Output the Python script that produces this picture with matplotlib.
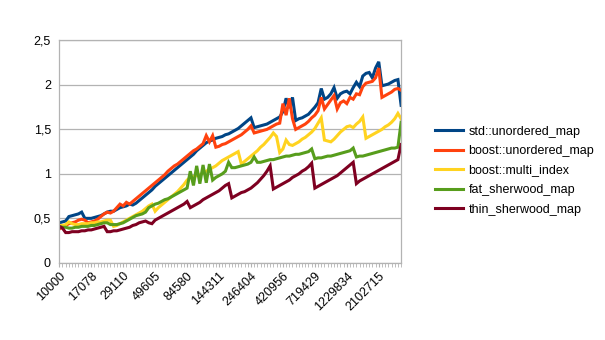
import numpy as np
import matplotlib.pyplot as plt
from matplotlib.ticker import FixedLocator

# x categories: 108 sizes, only every 10th is labelled
n_points = 108
tick_labels = ['10000', '17078', '29110', '49605', '84580', '144311',
               '246404', '420956', '719429', '1229834', '2102715']

std_unordered = [
    0.45, 0.46, 0.47, 0.52, 0.53, 0.54, 0.55, 0.57, 0.50, 0.50,
    0.50, 0.51, 0.52, 0.53, 0.55, 0.57, 0.58, 0.58, 0.60, 0.62,
    0.63, 0.64, 0.66, 0.65, 0.67, 0.70, 0.73, 0.76, 0.79, 0.82,
    0.86, 0.89, 0.92, 0.95, 0.98, 1.01, 1.04, 1.07, 1.10, 1.13,
    1.16, 1.19, 1.22, 1.26, 1.29, 1.32, 1.35, 1.37, 1.38, 1.40,
    1.41, 1.42, 1.44, 1.45, 1.47, 1.49, 1.51, 1.54, 1.57, 1.60,
    1.63, 1.52, 1.53, 1.54, 1.55, 1.56, 1.58, 1.60, 1.62, 1.64,
    1.70, 1.85, 1.74, 1.86, 1.60, 1.62, 1.63, 1.65, 1.67, 1.71,
    1.75, 1.80, 1.96, 1.84, 1.86, 1.90, 1.97, 1.85, 1.90, 1.92,
    1.93, 1.90, 1.97, 2.03, 1.98, 2.10, 2.13, 2.14, 2.08, 2.19,
    2.26, 1.99, 2.00, 2.01, 2.03, 2.05, 2.06, 1.77]

boost_unordered = [
    0.38, 0.40, 0.42, 0.44, 0.45, 0.46, 0.48, 0.49, 0.48, 0.45,
    0.46, 0.47, 0.49, 0.52, 0.55, 0.57, 0.56, 0.58, 0.62, 0.66,
    0.64, 0.68, 0.66, 0.69, 0.72, 0.75, 0.78, 0.81, 0.84, 0.87,
    0.90, 0.93, 0.96, 0.99, 1.03, 1.06, 1.09, 1.11, 1.14, 1.17,
    1.20, 1.23, 1.26, 1.28, 1.31, 1.34, 1.43, 1.36, 1.43, 1.30,
    1.31, 1.33, 1.34, 1.36, 1.38, 1.40, 1.42, 1.44, 1.47, 1.50,
    1.54, 1.46, 1.47, 1.48, 1.49, 1.50, 1.52, 1.54, 1.56, 1.57,
    1.79, 1.66, 1.85, 1.62, 1.50, 1.52, 1.54, 1.56, 1.59, 1.63,
    1.66, 1.71, 1.86, 1.73, 1.78, 1.83, 1.88, 1.73, 1.80, 1.82,
    1.79, 1.86, 1.84, 1.90, 1.89, 1.98, 2.02, 2.03, 2.04, 2.08,
    2.19, 1.86, 1.88, 1.90, 1.92, 1.95, 1.96, 1.94]

multi_index = [
    0.42, 0.42, 0.43, 0.46, 0.44, 0.43, 0.43, 0.44, 0.44, 0.44,
    0.45, 0.45, 0.46, 0.46, 0.47, 0.48, 0.48, 0.41, 0.42, 0.44,
    0.46, 0.48, 0.50, 0.52, 0.54, 0.56, 0.58, 0.61, 0.64, 0.66,
    0.58, 0.62, 0.65, 0.68, 0.71, 0.74, 0.77, 0.80, 0.84, 0.88,
    0.93, 0.96, 0.97, 0.98, 0.99, 1.01, 1.03, 1.05, 1.07, 1.09,
    1.12, 1.15, 1.17, 1.19, 1.21, 1.23, 1.25, 1.11, 1.14, 1.17,
    1.20, 1.23, 1.26, 1.30, 1.33, 1.37, 1.41, 1.46, 1.42, 1.24,
    1.28, 1.38, 1.33, 1.32, 1.34, 1.36, 1.39, 1.41, 1.44, 1.47,
    1.51, 1.57, 1.63, 1.38, 1.37, 1.36, 1.39, 1.43, 1.47, 1.50,
    1.53, 1.54, 1.52, 1.56, 1.59, 1.64, 1.40, 1.42, 1.44, 1.46,
    1.48, 1.50, 1.53, 1.55, 1.58, 1.62, 1.68, 1.62]

fat_sherwood = [
    0.41, 0.40, 0.40, 0.39, 0.39, 0.40, 0.40, 0.41, 0.41, 0.41,
    0.42, 0.42, 0.43, 0.44, 0.45, 0.45, 0.43, 0.43, 0.43, 0.44,
    0.45, 0.47, 0.49, 0.51, 0.53, 0.54, 0.55, 0.57, 0.62, 0.64,
    0.66, 0.67, 0.69, 0.71, 0.72, 0.74, 0.76, 0.78, 0.80, 0.82,
    0.84, 1.03, 0.87, 1.09, 0.89, 1.10, 0.90, 1.11, 0.93, 0.96,
    0.98, 1.00, 1.03, 1.13, 1.07, 1.07, 1.08, 1.09, 1.10, 1.11,
    1.13, 1.19, 1.13, 1.13, 1.14, 1.15, 1.16, 1.16, 1.17, 1.18,
    1.19, 1.20, 1.20, 1.21, 1.22, 1.22, 1.23, 1.24, 1.25, 1.28,
    1.17, 1.18, 1.18, 1.19, 1.20, 1.20, 1.21, 1.22, 1.23, 1.24,
    1.25, 1.26, 1.29, 1.19, 1.20, 1.20, 1.21, 1.22, 1.23, 1.24,
    1.25, 1.26, 1.27, 1.28, 1.29, 1.29, 1.30, 1.58]

thin_sherwood = [
    0.41, 0.39, 0.34, 0.34, 0.35, 0.35, 0.35, 0.36, 0.36, 0.37,
    0.37, 0.38, 0.39, 0.40, 0.41, 0.35, 0.35, 0.36, 0.36, 0.37,
    0.38, 0.39, 0.40, 0.42, 0.43, 0.45, 0.46, 0.47, 0.45, 0.44,
    0.48, 0.50, 0.52, 0.54, 0.56, 0.58, 0.60, 0.62, 0.64, 0.66,
    0.69, 0.62, 0.64, 0.66, 0.68, 0.71, 0.73, 0.75, 0.77, 0.79,
    0.81, 0.84, 0.87, 0.89, 0.73, 0.75, 0.77, 0.79, 0.80, 0.82,
    0.84, 0.87, 0.90, 0.94, 0.98, 1.03, 1.09, 0.83, 0.85, 0.87,
    0.89, 0.91, 0.93, 0.96, 0.98, 1.00, 1.03, 1.05, 1.08, 1.12,
    0.84, 0.86, 0.88, 0.90, 0.92, 0.94, 0.96, 0.98, 1.01, 1.04,
    1.07, 1.10, 1.13, 0.89, 0.92, 0.94, 0.96, 0.98, 1.00, 1.02,
    1.04, 1.06, 1.08, 1.10, 1.12, 1.14, 1.16, 1.33]

series = [
    ('std::unordered_map', std_unordered, '#004586'),
    ('boost::unordered_map', boost_unordered, '#ff420e'),
    ('boost::multi_index', multi_index, '#ffd320'),
    ('fat_sherwood_map', fat_sherwood, '#579d1c'),
    ('thin_sherwood_map', thin_sherwood, '#7e0021'),
]

plt.rcParams['font.family'] = ['Liberation Sans', 'DejaVu Sans']
fig = plt.figure(figsize=(6.05, 3.4), dpi=100)
ax = fig.add_axes([0.098, 0.227, 0.565, 0.654])

x = np.arange(n_points)
for name, vals, col in series:
    ax.plot(x, vals, color=col, lw=2.2, label=name, solid_joinstyle='miter')

ax.set_xlim(0, n_points - 1)
ax.set_ylim(0, 2.5)
ax.set_yticks([0, 0.5, 1, 1.5, 2, 2.5])
ax.set_yticklabels(['0', '0,5', '1', '1,5', '2', '2,5'])
ax.grid(axis='y', color='#b3b3b3', lw=0.9)
ax.set_axisbelow(True)

ax.xaxis.set_major_locator(FixedLocator(np.arange(0, 101, 10)))
ax.set_xticklabels(tick_labels, rotation=45, ha='right', rotation_mode='anchor')
ax.xaxis.set_minor_locator(FixedLocator(x))
ax.tick_params(axis='x', which='both', length=3, color='#b3b3b3', labelsize=9, pad=2)
ax.tick_params(axis='y', length=0, labelsize=9, pad=6)
for s in ax.spines.values():
    s.set_color('#b3b3b3')
    s.set_linewidth(0.9)

fig.legend(loc='center left', bbox_to_anchor=(0.709, 0.4985), frameon=False,
           fontsize=9, handlelength=2.2, handletextpad=0.45, labelspacing=0.6,
           borderpad=0)

fig.savefig('out.png', dpi=100)
